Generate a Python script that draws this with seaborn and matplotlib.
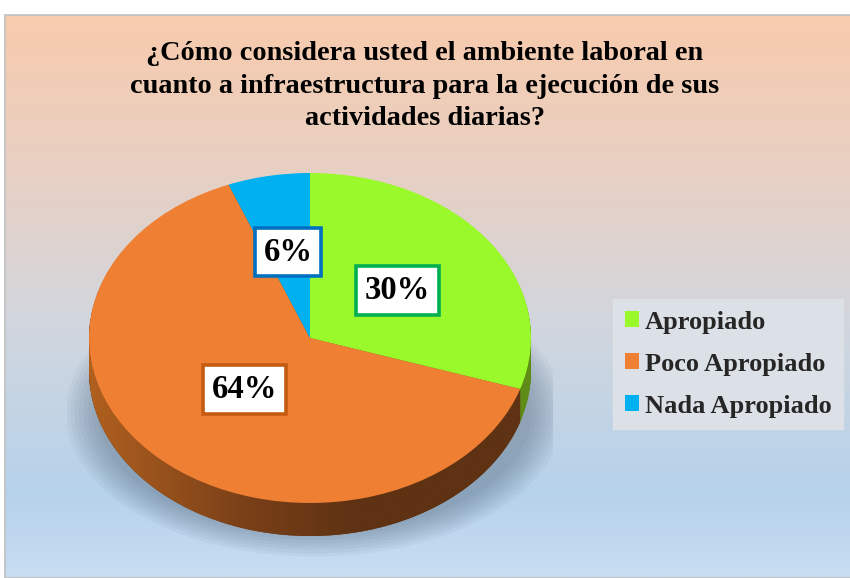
import numpy as np
import matplotlib
matplotlib.use("Agg")
import matplotlib.pyplot as plt
import seaborn as sns
from matplotlib.colors import LinearSegmentedColormap
from matplotlib.patches import Ellipse, Rectangle, Polygon

# data
categories = ["Apropiado", "Poco Apropiado", "Nada Apropiado"]
values = [30, 64, 6]
title = ("¿Cómo considera usted el ambiente laboral en\n"
         "cuanto a infraestructura para la ejecución de sus\n"
         "actividades diarias?")

top_colors = ["#9AF92B", "#EF7F33", "#00B0F0"]
side_colors = ["#5E8C17", "#6A3815", "#006E96"]
box_edges = ["#00B050", "#C55A11", "#0070C0"]
label_dist = [0.49, 0.43, 0.53]

sns.set_theme(style="white")
plt.rcParams["font.family"] = ["Liberation Serif", "DejaVu Serif"]

W, H = 850, 578
fig = plt.figure(figsize=(W / 100, H / 100), dpi=100)
fig.patch.set_facecolor("white")

# background gradient panel
bg = fig.add_axes([5 / W, 0, (W - 5) / W, (H - 15) / H])
bg_cmap = LinearSegmentedColormap.from_list(
    "bg", [(0, "#F8CBAD"), (0.3, "#E6D0C5"), (0.55, "#D1D6DE"),
           (0.85, "#B6D2EB"), (1, "#C8DDF2")])
bg.imshow(np.linspace(0, 1, 256).reshape(-1, 1), cmap=bg_cmap, aspect="auto",
          extent=[0, 1, 0, 1], origin="upper")
bg.set_xlim(0, 1)
bg.set_ylim(0, 1)
bg.axis("off")
bg.add_patch(Rectangle((0, 0), 1.2, 1, fill=False, edgecolor="#BFBFBF",
                       linewidth=1.2, transform=bg.transAxes, clip_on=False))

fig.text(0.5, 1 - 86 / H, title, ha="center", va="center", fontsize=20.3,
         fontweight="bold", linespacing=1.38, color="black")

# pie axes: 1 data unit = 221 px horizontally, 165 px vertically
cx, cy, rx, ry = 310, 338, 221, 165
x0, x1, y0, y1 = -1.1, 1.1, -1.4, 1.1
ax = fig.add_axes([(cx + x0 * rx) / W, (H - (cy - y0 * ry)) / H,
                   (x1 - x0) * rx / W, (y1 - y0) * ry / H])
ax.patch.set_alpha(0)

# soft shadow under the pie
for k in range(8):
    ax.add_patch(Ellipse((0.02, -0.45), 2.25 - k * 0.04, 1.75 - k * 0.04,
                         facecolor="#4A5E74", alpha=0.06, linewidth=0, zorder=0))

thick = 0.2
for t in np.linspace(thick, 0.005, 40):
    ax.pie(values, colors=side_colors, startangle=90, counterclock=False,
           center=(0, -t), radius=1, wedgeprops=dict(linewidth=0))

# horizontal gradient on the visible side of the orange slice
ang = np.radians(np.linspace(180, 342, 120))
band = np.concatenate([np.c_[np.cos(ang), np.sin(ang)],
                       np.c_[np.cos(ang[::-1]), np.sin(ang[::-1]) - thick]])
clip = Polygon(band, closed=True, transform=ax.transData, facecolor="none",
               edgecolor="none")
ax.add_patch(clip)
side_cmap = LinearSegmentedColormap.from_list(
    "side", [(0, "#B0601F"), (0.35, "#7A4018"), (0.6, "#5E3213"), (1, "#5E3213")])
im = ax.imshow(np.linspace(0, 1, 256).reshape(1, -1), cmap=side_cmap,
               extent=[-1, 1, -1.3, 0.2], aspect="auto", zorder=3)
im.set_clip_path(clip)

wedges, texts, autotexts = ax.pie(
    values, colors=top_colors, startangle=90, counterclock=False,
    radius=1, autopct="%d%%", pctdistance=0.55,
    wedgeprops=dict(linewidth=0),
    textprops=dict(fontsize=23.5, fontweight="bold", color="black"))
for w in wedges:
    w.set_zorder(4)
for w, t, ec, d in zip(wedges, autotexts, box_edges, label_dist):
    mid = np.radians((w.theta1 + w.theta2) / 2)
    t.set_position((d * np.cos(mid), d * np.sin(mid)))
    t.set_zorder(6)
    t.set_bbox(dict(boxstyle="square,pad=0.27", facecolor="white",
                    edgecolor=ec, linewidth=2.6))

ax.set_aspect("auto")
ax.set_xlim(x0, x1)
ax.set_ylim(y0, y1)
ax.axis("off")

leg = fig.legend(wedges, categories, loc="center left",
                 bbox_to_anchor=(613 / W, 1 - 364 / H), frameon=True,
                 fancybox=False, facecolor="#DCE1E8", edgecolor="#DCE1E8",
                 framealpha=1, prop=dict(size=19, weight="bold"),
                 handlelength=0.55, handleheight=0.55, handletextpad=0.2,
                 labelspacing=0.72, borderpad=0.45, borderaxespad=0)

fig.savefig("out.png", dpi=100)
